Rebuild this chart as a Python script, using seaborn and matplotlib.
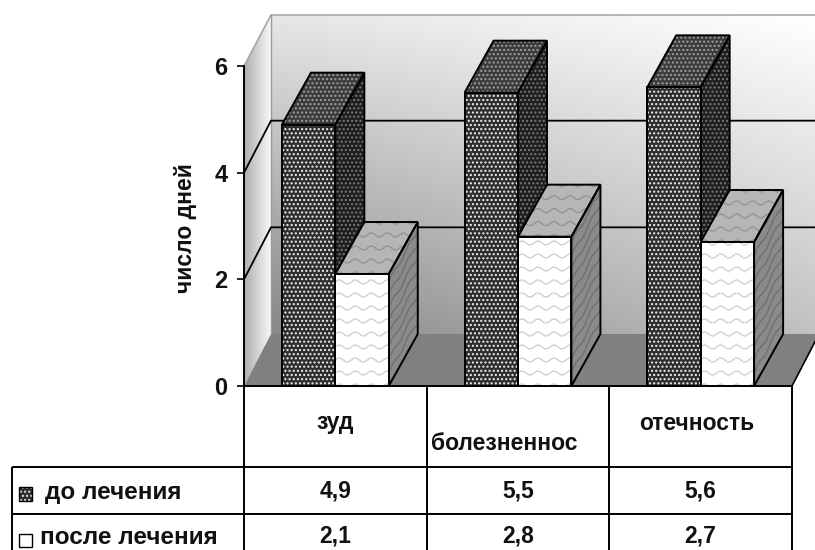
import numpy as np
import pandas as pd
import matplotlib
matplotlib.use("Agg")
import matplotlib.pyplot as plt
from matplotlib.patches import Polygon, Rectangle
import seaborn as sns

# Days of symptoms before and after treatment
categories = ["зуд", "болезненнос", "отечность"]
series_names = ["до лечения", "после лечения"]
before_values = [4.9, 5.5, 5.6]
after_values = [2.1, 2.8, 2.7]
y_ticks = [0, 2, 4, 6]
y_title = "число дней"

W, H = 815, 550
PLOT_L, PLOT_R, PLOT_B, PLOT_T = 244, 792, 386, 66
WALL_DX_PX, DEPTH_DY_PX, BAR_DX_PX = 27, 52, 29
FONT = "Liberation Sans"

sns.set_theme(style="white")
plt.rcParams["font.family"] = [FONT, "DejaVu Sans"]
plt.rcParams["font.weight"] = "bold"
plt.rcParams["hatch.linewidth"] = 1.0

fig = plt.figure(figsize=(W / 100, H / 100), dpi=100, facecolor="white")

# Pixel-space layer: walls, floor and the data table underneath
bg = fig.add_axes([0, 0, 1, 1], zorder=0)
bg.set_xlim(0, W)
bg.set_ylim(H, 0)
bg.axis("off")

# Front plane of the 3D box: the real data axes
ax = fig.add_axes(
    [PLOT_L / W, (H - PLOT_B) / H, (PLOT_R - PLOT_L) / W, (PLOT_B - PLOT_T) / H],
    zorder=1,
)
ax.patch.set_visible(False)

df = pd.DataFrame({
    "category": categories * 2,
    "series": [series_names[0]] * 3 + [series_names[1]] * 3,
    "days": before_values + after_values,
})
sns.barplot(
    data=df, x="category", y="days", hue="series", order=categories,
    hue_order=series_names, palette=["#2e2e2e", "#ffffff"], saturation=1,
    width=0.585, gap=0, dodge=True, legend=False, ax=ax,
)
ax.set_xlim(-0.5, 2.5)
ax.set_ylim(0, 6)

px_x = (PLOT_R - PLOT_L) / 3
px_y = (PLOT_B - PLOT_T) / 6
wall_dx, depth_dy, bar_dx = WALL_DX_PX / px_x, DEPTH_DY_PX / px_y, BAR_DX_PX / px_x

# Back wall with a diagonal grey gradient
gx, gy = np.meshgrid(np.linspace(0, 1, 120), np.linspace(0, 1, 120))
wall = (0.90 * (1 - gx) * (1 - gy) + 1.0 * gx * (1 - gy)
        + 0.53 * (1 - gx) * gy + 0.76 * gx * gy)
back_l, back_r = PLOT_L + WALL_DX_PX, PLOT_R + WALL_DX_PX
back_t, back_b = PLOT_T - DEPTH_DY_PX + 1, PLOT_B - DEPTH_DY_PX
bg.imshow(wall, extent=[back_l, back_r, back_b, back_t], cmap="gray",
          vmin=0, vmax=1, aspect="auto", zorder=1)

# Left wall, lighter towards the back edge
side = np.tile(np.linspace(0.68, 0.97, 60), (60, 1))
side_img = bg.imshow(side, extent=[PLOT_L, back_l, PLOT_B, back_t], cmap="gray",
                     vmin=0, vmax=1, aspect="auto", zorder=1)
side_clip = Polygon([(PLOT_L, PLOT_T), (back_l, back_t), (back_l, back_b), (PLOT_L, PLOT_B)],
                    closed=True, transform=bg.transData)
side_img.set_clip_path(side_clip)
bg.set_xlim(0, W)
bg.set_ylim(H, 0)

# Floor
bg.add_patch(Polygon([(PLOT_L, PLOT_B), (back_l, back_b), (back_r, back_b), (PLOT_R, PLOT_B)],
                     closed=True, facecolor="#808080", edgecolor="none", zorder=2))

# Wall outlines
bg.plot([PLOT_L, back_l, W], [PLOT_T, back_t, back_t], color="#a8a8a8", lw=1.2, zorder=3)
bg.plot([back_l, back_l], [back_t, back_b], color="#9a9a9a", lw=1.0, zorder=3)
bg.plot([PLOT_R, back_r], [PLOT_B, back_b], color="black", lw=1.2, zorder=3)

# Gridlines running along both walls
for tick in y_ticks[1:-1]:
    ax.plot([-0.5, -0.5 + wall_dx, 2.5 + wall_dx], [tick, tick + depth_dy, tick + depth_dy],
            color="black", lw=1.3, clip_on=False, zorder=1)


def add_waves(clip, x_range, y_range, color, skew=0.0):
    """Wavy texture, clipped to a bar face and optionally sheared along the depth."""
    row_step = 13 / px_y
    t = np.linspace(0, 1, 200)
    width = x_range[1] - x_range[0]
    cycles = width * px_x / 16
    for row in np.arange(y_range[0] - abs(skew), y_range[1] + row_step, row_step):
        xs = x_range[0] + t * width
        ys = row + skew * t + (2 / px_y) * np.sin(2 * np.pi * cycles * t)
        line, = ax.plot(xs, ys, color=color, lw=1.0, clip_on=True, zorder=clip.get_zorder() + 0.1)
        line.set_clip_path(clip)


bars_before, bars_after = ax.containers[0], ax.containers[1]
faces = [
    (bars_before, dict(top=("#3c3c3c", "#a0a0a0"), side=("#1e1e1e", "#7a7a7a"),
                       front="#f0f0f0"), False),
    (bars_after, dict(top=("#b6b6b6", "#949494"), side=("#8a8a8a", "#707070"),
                      front="#d0d0d0"), True),
]

for level, (bars, colors, wavy) in enumerate(faces):
    for bar in bars:
        x0, x1, h = bar.get_x(), bar.get_x() + bar.get_width(), bar.get_height()
        top_pts = [(x0, h), (x0 + bar_dx, h + depth_dy), (x1 + bar_dx, h + depth_dy), (x1, h)]
        side_pts = [(x1, 0), (x1 + bar_dx, depth_dy), (x1 + bar_dx, h + depth_dy), (x1, h)]
        z = 3 + level
        for pts, (base, tex), key in ((top_pts, colors["top"], "top"),
                                      (side_pts, colors["side"], "side")):
            face = Polygon(pts, closed=True, facecolor=base, clip_on=False, zorder=z,
                           edgecolor=tex if not wavy else "none",
                           hatch=None if wavy else "....", linewidth=0)
            ax.add_patch(face)
            if wavy:
                if key == "top":
                    add_waves(face, (x0, x1 + bar_dx), (h, h + depth_dy), tex)
                else:
                    add_waves(face, (x1, x1 + bar_dx), (0, h + depth_dy), tex, skew=depth_dy)
            ax.add_patch(Polygon(pts, closed=True, fill=False, edgecolor="black", lw=1.4,
                                 clip_on=False, zorder=z + 0.2))
        # Front face last, so it covers the neighbouring depth faces
        bar.set_zorder(6)
        bar.set_linewidth(0)
        if wavy:
            bar.set_edgecolor("none")
            add_waves(bar, (x0, x1), (0, h), colors["front"])
        else:
            bar.set_edgecolor(colors["front"])
            bar.set_hatch("....")
        ax.add_patch(Rectangle((x0, 0), x1 - x0, h, fill=False, edgecolor="black", lw=1.4,
                               clip_on=False, zorder=6.5))

# Value axis
for name in ("top", "right", "bottom"):
    ax.spines[name].set_visible(False)
ax.spines["left"].set_color("black")
ax.spines["left"].set_linewidth(1.4)
ax.set_xticks([])
ax.set_xlabel("")
ax.set_yticks(y_ticks)
ax.tick_params(axis="y", left=True, length=5, width=1.2, color="black", pad=7,
               labelsize=17, labelcolor="#111111")
ax.set_ylabel(y_title, fontsize=16.5, fontweight="bold", color="#111111")
ax.yaxis.set_label_coords((197 - PLOT_L) / (PLOT_R - PLOT_L), 0.494)

# Data table under the plot
col_edges = [PLOT_L + i * px_x for i in range(4)]
header_b, row1_b, table_b = 467, 514, H
table_l = 12
table_kw = dict(color="black", lw=1.4, zorder=3, solid_capstyle="butt")
bg.plot([PLOT_L, PLOT_R], [PLOT_B, PLOT_B], **table_kw)
bg.plot([table_l, PLOT_R], [header_b, header_b], **table_kw)
bg.plot([table_l, PLOT_R], [row1_b, row1_b], **table_kw)
bg.plot([table_l, table_l], [header_b, table_b], **table_kw)
for edge in col_edges:
    bg.plot([edge, edge], [PLOT_B, table_b], **table_kw)

text_kw = dict(color="#111111", fontsize=16.5, fontweight="bold", zorder=4)
header_pos = [(col_edges[0] + px_x / 2, 423, "center"), (431, 443, "left"),
              (col_edges[2] + px_x / 2 - 4, 424, "center")]
for label, (tx, ty, align) in zip(categories, header_pos):
    bg.text(tx, ty, label, ha=align, va="center", **text_kw)

for row_y, values in ((491, before_values), (536, after_values)):
    for i, value in enumerate(values):
        bg.text(col_edges[i] + px_x / 2, row_y, f"{value:.1f}".replace(".", ","),
                ha="center", va="center", **text_kw)

name_kw = dict(text_kw, fontsize=17.5)
bg.text(45, 493, series_names[0], ha="left", va="center", **name_kw)
bg.text(40, 537, series_names[1], ha="left", va="center", **name_kw)

# Legend keys inside the table
bg.add_patch(Rectangle((19, 487), 13, 14, facecolor="#2e2e2e", edgecolor="#e4e4e4",
                       hatch="....", linewidth=0, zorder=3))
bg.add_patch(Rectangle((19, 487), 13, 14, fill=False, edgecolor="black", lw=1.0, zorder=4))
bg.add_patch(Rectangle((19, 534), 13, 13, facecolor="white", edgecolor="#9a9a9a",
                       hatch="\\", linewidth=0, zorder=3))
bg.add_patch(Rectangle((19, 534), 13, 13, fill=False, edgecolor="black", lw=1.0, zorder=4))

fig.savefig("out.png", dpi=100, facecolor="white")
